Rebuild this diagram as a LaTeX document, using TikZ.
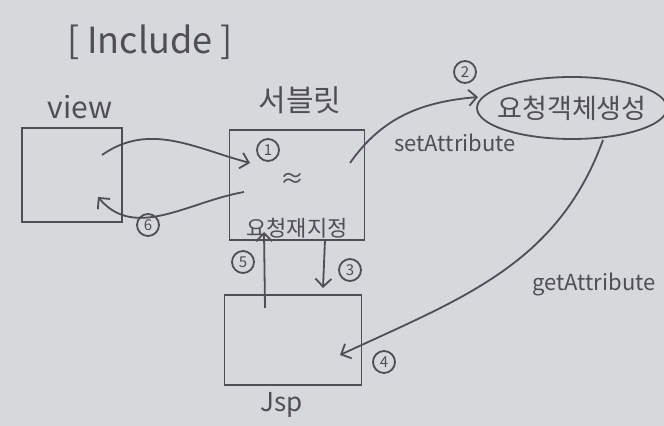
\documentclass[tikz,border=0pt]{standalone}
\usepackage{fontspec}
\newfontfamily\kr{Noto Sans CJK KR}
\usetikzlibrary{shapes.geometric,backgrounds,arrows.meta}
\definecolor{paper}{RGB}{214,216,220}
\definecolor{pencil}{RGB}{78,78,84}

\begin{document}
\begin{tikzpicture} [x=0.5pt,y=-0.5pt,
			background rectangle/.style={fill=paper}, inner frame sep=0pt,
			show background rectangle,line width=0.9pt,color=pencil,
			>={Straight Barb[length=4pt,width=8pt]},
			box/.style={draw,rectangle,inner sep=0pt},
			num/.style={draw,circle,inner sep=0pt,minimum size=11pt,font=\kr\fontsize{7.5}{8}\selectfont},
			hand/.style={font=\kr\fontsize{#1}{#1}\selectfont}
			]

		\useasboundingbox (0,0) rectangle (664,426);

		% labels and boxes
		\node [hand=18] (title) at (150,42) {[ Include ]};
		\node [hand=15] (viewlbl) at (80,107) {view};
		\node [box, minimum width=50pt, minimum height=47pt] (view) at (72,175) {};
		\node [hand=15] (servletlbl) at (300,100) {서블릿};
		\node [box, minimum width=67.5pt, minimum height=55pt] (servlet) at (297,185) {};
		\node [hand=12] (wave) at (292,180) {≈};
		\node [hand=11] (redirect) at (297,228) {요청재지정};
		\node [draw, ellipse, minimum width=95pt, minimum height=31pt] (obj) at (572,108) {};
		\node [hand=13.5] (objtext) at (obj) {요청객체생성};
		\node [box, minimum width=68.5pt, minimum height=45pt] (jsp) at (293,340) {};
		\node [hand=13] (jsplbl) at (282,405) {Jsp};
		\node [hand=11] (setattr) at (455,143) {setAttribute};
		\node [hand=11] (getattr) at (594,284) {getAttribute};

		% step numbers
		\node [num] (n1) at (268,150) {1};
		\node [num] (n2) at (465,72) {2};
		\node [num] (n3) at (350,270) {3};
		\node [num] (n4) at (384,362) {4};
		\node [num] (n5) at (243,262) {5};
		\node [num] (n6) at (148,225) {6};

		% arrow ends
		\coordinate (v1) at (102,155);
		\coordinate (s1) at (250,163);
		\coordinate (s6) at (244,192);
		\coordinate (v6) at (98,197);
		\coordinate (s2) at (350,163);
		\coordinate (o2) at (478,97);
		\coordinate (s3) at (325,240);
		\coordinate (j3) at (323,288);
		\coordinate (j5) at (265,308);
		\coordinate (s5) at (264,232);
		\coordinate (o4) at (603,140);
		\coordinate (j4) at (340,355);

		\draw [->] (v1) to [out=35,in=165] (s1);
		\draw [->] (s6) to [out=190,in=-50] (v6);
		\draw [->] (s2) to [out=55,in=185] (o2);
		\draw [->] (s3) -- (j3);
		\draw [->] (j5) -- (s5);
		\draw [->] (o4) to [out=250,in=25] (j4);

		\end{tikzpicture}
\end{document}
